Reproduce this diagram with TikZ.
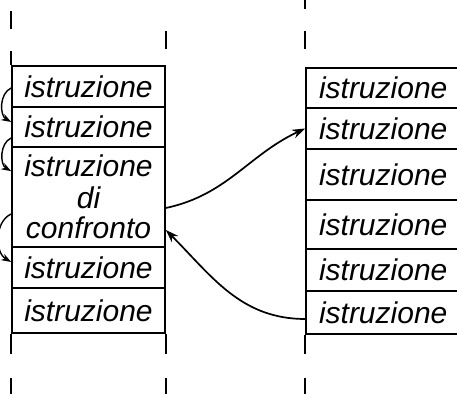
\documentclass[tikz,border=0pt]{standalone}
\usepackage{fontspec}
\setsansfont{Liberation Sans}
\usetikzlibrary{arrows.meta}
\begin{document}
\begin{tikzpicture}[x=1pt,y=1pt,
  cell/.style={draw,line width=1.7pt,inner sep=0pt,minimum width=153pt,
    font=\sffamily\itshape\fontsize{30}{30}\selectfont,align=center},
  rcell/.style={draw,line width=1.7pt,inner ysep=0pt,inner xsep=13pt,text width=154pt,
    font=\sffamily\itshape\fontsize{30}{30}\selectfont,align=left},
  side/.style={line width=1.8pt},
  jump/.style={line width=1.4pt,-{Stealth[length=10pt,width=7pt]}},
  link/.style={line width=1.7pt,-{Stealth[length=13pt,width=9pt]}}]
\useasboundingbox (0,0) rectangle (457,398);
\clip (0,0) rectangle (457,398);
% left column
\node[cell,minimum height=41pt] (L1) at (88.5,311.5) {istruzione};
\node[cell,minimum height=40pt] (L2) at (88.5,271) {istruzione};
\node[cell,minimum height=100pt] (L3) at (88.5,201) {istruzione\\[2pt]di\\confronto};
\node[cell,minimum height=41pt] (L4) at (88.5,130.5) {istruzione};
\node[cell,minimum height=45pt] (L5) at (88.5,87.5) {istruzione};
% right column
\foreach \n/\y/\h in {1/310/40,2/269.5/41,3/223.5/51,4/173.5/49,5/128/42,6/85.5/43}
  \node[rcell,minimum height=\h pt] (R\n) at (396,\y) {istruzione};
% sides
\draw[side] ([yshift=14pt]L1.north west) -- (L1.north west);
\draw[side] ([yshift=36pt]L1.north west) -- ([yshift=54pt]L1.north west);
\draw[side] ([yshift=16pt]L1.north east) -- ([yshift=34pt]L1.north east);
\draw[side] ([yshift=18pt]R1.north west) -- ([yshift=36pt]R1.north west);
\draw[side] ([yshift=58pt]R1.north west) -- ([yshift=70pt]R1.north west);
\draw[side] (L5.south west) -- ([yshift=-20pt]L5.south west);
\draw[side] (L5.south east) -- ([yshift=-20pt]L5.south east);
\draw[side] ([yshift=-44pt]L5.south west) -- ([yshift=-60pt]L5.south west);
\draw[side] ([yshift=-44pt]L5.south east) -- ([yshift=-60pt]L5.south east);
\draw[side] (R6.south west) -- ([yshift=-19pt]R6.south west);
\draw[side] ([yshift=-43pt]R6.south west) -- ([yshift=-59pt]R6.south west);
% arrows
\draw[jump] ([yshift=-1.5pt]L1.west) to[out=205,in=150] ([yshift=5pt]L2.west);
\draw[jump] ([yshift=-11pt]L2.west) to[out=205,in=150] ([yshift=-25pt]L3.north west);
\draw[jump] ([yshift=-17pt]L3.west) to[out=205,in=150] ([yshift=5.5pt]L4.west);
\draw[link] ([yshift=-11pt]L3.east) to[out=12,in=205] (R2.west);
\draw[link] ([yshift=-6.5pt]R6.west) to[out=180,in=-45] ([yshift=-33pt]L3.east);
\end{tikzpicture}
\end{document}
